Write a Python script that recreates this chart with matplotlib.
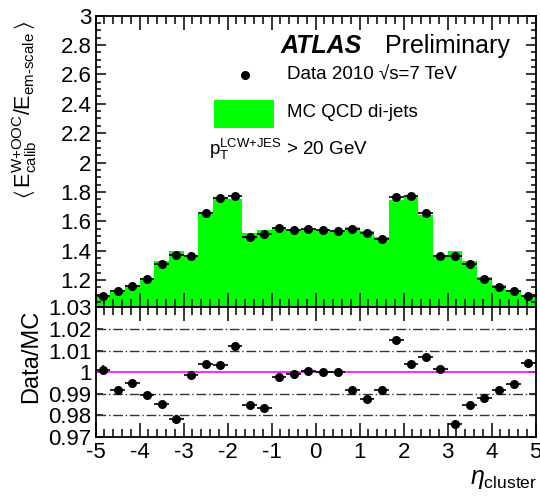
#!/usr/bin/env python3

import numpy as np
import matplotlib

matplotlib.use("Agg")
import matplotlib.pyplot as plt
from matplotlib.patches import Rectangle
from matplotlib.ticker import FixedLocator, MultipleLocator

plt.rcParams["font.family"] = ["Liberation Sans", "DejaVu Sans"]
plt.rcParams["mathtext.fontset"] = "custom"
plt.rcParams["mathtext.rm"] = "Liberation Sans"
plt.rcParams["mathtext.it"] = "Liberation Sans:italic"
plt.rcParams["mathtext.bf"] = "Liberation Sans:bold"
plt.rcParams["mathtext.fallback"] = "stixsans"
plt.rcParams["axes.unicode_minus"] = False

# eta_cluster binning: 30 bins between -5 and 5
eta_edges = np.linspace(-5, 5, 31)

# mean calibrated / em-scale energy ratio, data points
data_resp = [1.091, 1.125, 1.159, 1.205, 1.307, 1.368, 1.363, 1.658, 1.761, 1.774,
             1.495, 1.513, 1.552, 1.538, 1.547, 1.540, 1.536, 1.547, 1.518, 1.479,
             1.768, 1.772, 1.654, 1.363, 1.365, 1.309, 1.205, 1.155, 1.125, 1.091]

# MC QCD di-jets
mc_resp = [1.092, 1.134, 1.166, 1.217, 1.328, 1.399, 1.365, 1.653, 1.756, 1.754,
           1.517, 1.540, 1.556, 1.540, 1.546, 1.540, 1.536, 1.559, 1.537, 1.490,
           1.743, 1.765, 1.644, 1.361, 1.399, 1.329, 1.220, 1.166, 1.131, 1.088]

# Data/MC
ratio = [1.0012, 0.9917, 0.9951, 0.9895, 0.9850, 0.9784, 0.9986, 1.0036, 1.0031, 1.0120,
         0.9846, 0.9832, 0.9977, 0.9989, 1.0005, 1.0000, 1.0002, 0.9917, 0.9874, 0.9917,
         1.0148, 1.0039, 1.0069, 1.0016, 0.9758, 0.9847, 0.9880, 0.9917, 0.9945, 1.0040]
ratio_err = [0.0020, 0.0006, 0.0006, 0.0005, 0.0005, 0.0005, 0.0005, 0.0005, 0.0005, 0.0008,
             0.0015, 0.0006, 0.0006, 0.0012, 0.0008, 0.0006, 0.0012, 0.0010, 0.0006, 0.0015,
             0.0008, 0.0005, 0.0005, 0.0005, 0.0005, 0.0005, 0.0005, 0.0005, 0.0005, 0.0015]

ratio_ticks = [0.97, 0.98, 0.99, 1.0, 1.01, 1.02, 1.03]
ratio_tick_labels = ["0.97", "0.98", "0.99", "1", "1.01", "1.02", "1.03"]
resp_ticks = [1.2, 1.4, 1.6, 1.8, 2.0, 2.2, 2.4, 2.6, 2.8, 3.0]
resp_tick_labels = ["1.2", "1.4", "1.6", "1.8", "2", "2.2", "2.4", "2.6", "2.8", "3"]

centers = 0.5 * (eta_edges[1:] + eta_edges[:-1])
half_w = 0.5 * np.diff(eta_edges)

fig = plt.figure(figsize=(5.4, 4.97), dpi=100)
ax = fig.add_axes([0.1772, 0.3813, 0.8148, 0.5871])
rax = fig.add_axes([0.1772, 0.1213, 0.8148, 0.2600])

# --- upper panel ---
ymin = 1.013
ax.stairs(mc_resp, eta_edges, baseline=ymin, fill=True, color="#00ff00", lw=0)
ax.errorbar(centers, data_resp, xerr=half_w, fmt="o", color="black", ms=5.5,
            elinewidth=1.2, capsize=0)
ax.set_xlim(-5, 5)
ax.set_ylim(ymin, 3.0)
ax.yaxis.set_major_locator(FixedLocator(resp_ticks))
ax.set_yticklabels(resp_tick_labels)
ax.yaxis.set_minor_locator(MultipleLocator(0.05))
ax.xaxis.set_major_locator(MultipleLocator(1))
ax.xaxis.set_minor_locator(MultipleLocator(0.2))
ax.tick_params(axis="x", which="both", direction="in", top=True, bottom=True,
               labelbottom=False)
ax.tick_params(axis="x", which="major", length=10, width=1.1)
ax.tick_params(axis="x", which="minor", length=5.5, width=1.1)
ax.tick_params(axis="y", which="both", direction="in", left=True, right=True,
               labelsize=16, pad=3)
ax.tick_params(axis="y", which="major", length=7, width=1.1)
ax.tick_params(axis="y", which="minor", length=3.5, width=1.1)
for sp in ax.spines.values():
    sp.set_linewidth(1.3)

# legend and labels
ax.text(0.419, 0.872, "ATLAS", transform=ax.transAxes, fontsize=18,
        fontweight="bold", fontstyle="italic", va="baseline")
ax.text(0.657, 0.872, "Preliminary", transform=ax.transAxes, fontsize=18,
        va="baseline")
ax.plot([0.340], [0.797], "o", color="black", ms=5.5, transform=ax.transAxes)
ax.text(0.435, 0.797, "Data 2010 \u221as=7 TeV", transform=ax.transAxes,
        fontsize=13.5, va="center")
ax.add_patch(Rectangle((0.269, 0.615), 0.136, 0.096, transform=ax.transAxes,
                       facecolor="#00ff00", edgecolor="none"))
ax.text(0.435, 0.667, "MC QCD di-jets", transform=ax.transAxes, fontsize=13.5,
        va="center")
ax.text(0.258, 0.523, r"$\mathrm{p}_{\mathrm{T}}^{\mathrm{LCW{+}JES}}$ > 20 GeV",
        transform=ax.transAxes, fontsize=13.5, va="baseline")

# --- ratio panel ---
for yv in [0.98, 0.99, 1.01, 1.02]:
    rax.axhline(yv, color="#333333", lw=1.0, ls=(0, (7, 2, 1, 2)))
rax.axhline(1.0, color="#ff00ff", lw=1.2)
rax.errorbar(centers, ratio, xerr=half_w, yerr=ratio_err, fmt="o", color="black",
             ms=5.5, elinewidth=1.2, capsize=0)
rax.set_xlim(-5, 5)
rax.set_ylim(0.97, 1.03)
rax.yaxis.set_major_locator(FixedLocator(ratio_ticks))
rax.set_yticklabels(ratio_tick_labels)
rax.xaxis.set_major_locator(MultipleLocator(1))
rax.xaxis.set_minor_locator(MultipleLocator(0.2))
rax.xaxis.set_major_formatter(plt.FuncFormatter(lambda v, p: f"{v:g}"))
rax.tick_params(axis="x", which="both", direction="in", top=True, bottom=True,
                labelsize=16, pad=4)
rax.tick_params(axis="x", which="major", length=10, width=1.1)
rax.tick_params(axis="x", which="minor", length=5.5, width=1.1)
rax.tick_params(axis="y", which="both", direction="in", left=True, right=True,
                labelsize=16, pad=3)
rax.tick_params(axis="y", which="major", length=5, width=1.1)
for sp in rax.spines.values():
    sp.set_linewidth(1.3)

# axis titles
fig.text(0.045, 0.958,
         r"$\langle\,\mathrm{E}_{\mathrm{calib}}^{\mathrm{W{+}OOC}}/\mathrm{E}_{\text{em-scale}}\,\rangle$",
         rotation=90, ha="center", va="top", fontsize=15.5)
fig.text(0.057, 0.282, "Data/MC", rotation=90, ha="center", va="center", fontsize=17)
fig.text(0.995, 0.012, r"$\eta_{\mathrm{cluster}}$", ha="right", va="bottom", fontsize=18)

fig.savefig("out.png", dpi=100)
